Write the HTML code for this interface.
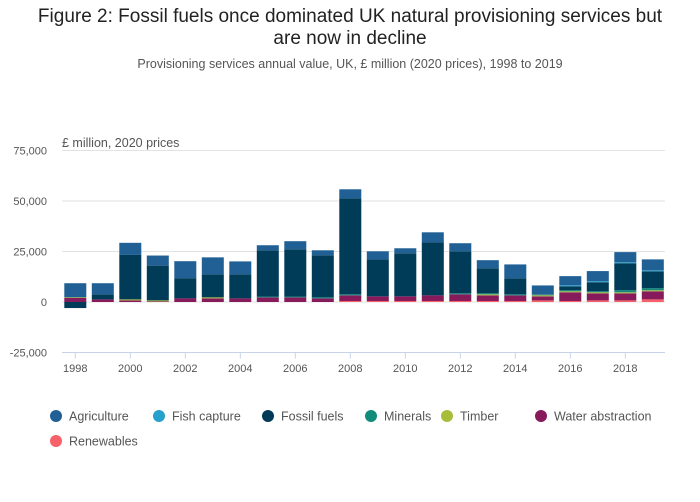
<!DOCTYPE html>
<html><head><meta charset="utf-8"><style>
body{margin:0;background:#fff;font-family:"Liberation Sans",sans-serif;}
#wrap{position:relative;width:700px;height:502px;overflow:hidden;}
.t{position:absolute;white-space:nowrap;}
</style></head><body>
<div id="wrap">
<div class="t" style="left:0;width:700px;top:6px;text-align:center;font-size:19px;line-height:22px;color:#222;white-space:normal">Figure 2: Fossil fuels once dominated UK natural provisioning services but<br>are now in decline</div>
<div class="t" style="left:0;width:700px;top:57px;text-align:center;font-size:12.5px;color:#555">Provisioning services annual value, UK, £ million (2020 prices), 1998 to 2019</div>
<div class="t" style="left:62px;top:136px;font-size:12.5px;color:#555">£ million, 2020 prices</div>
<svg id="chart" width="700" height="502" style="position:absolute;left:0;top:0"></svg>
</div>
<script>
const years=[1998,1999,2000,2001,2002,2003,2004,2005,2006,2007,2008,2009,2010,2011,2012,2013,2014,2015,2016,2017,2018,2019];
const renewables=[0,0,0,0,0,0,0,0,0,0,0.5,0.5,0.5,0.5,0.5,0.5,0.5,0.8,0.5,0.8,0.8,1.3];
const water=[2,1.3,0.8,0.3,1.8,1.8,1.8,2.3,2.3,1.8,2.8,2.3,2.3,2.8,3.3,2.8,2.8,2,4.3,3.5,3.5,4];
const timber=[0.3,0,0.5,0.5,0,0.5,0,0,0,0,0,0,0,0,0,0.5,0,0.5,0.5,0.5,0.5,0.5];
const minerals=[0,0,0,0,0,0,0,0.4,0.4,0.5,0.5,0,0,0,0.5,0.5,0.5,0.3,0.5,0.5,1,1];
const fossil=[-3,2.5,22,17.2,10,11.4,11.9,22.9,23.4,20.8,47.5,18.3,21.3,26.2,20.8,12.4,7.9,0.2,2,4.5,13.4,8.4];
const fish=[0,0,0,0,0,0,0,0,0,0,0,0,0,0,0,0,0,0,0.5,0.5,0.5,0.5];
const agriculture=[7,5.5,6,5,8.4,8.4,6.4,2.5,4,2.5,4.5,4,2.5,5,4,4,6.9,4.4,4.5,5,5,5.4];
const yTicks=[75000,50000,25000,0,-25000];
const yTickLabels=["75,000","50,000","25,000","0","-25,000"];
const series=[
 {name:"Renewables",key:"renewables",data:renewables,color:"#f66068"},
 {name:"Water abstraction",key:"water",data:water,color:"#871a5b"},
 {name:"Timber",key:"timber",data:timber,color:"#a8bd3a"},
 {name:"Minerals",key:"minerals",data:minerals,color:"#118c7b"},
 {name:"Fossil fuels",key:"fossil",data:fossil,color:"#003c57"},
 {name:"Fish capture",key:"fish",data:fish,color:"#27a0cc"},
 {name:"Agriculture",key:"agriculture",data:agriculture,color:"#206095"}
];
const NS="http://www.w3.org/2000/svg";
const svg=document.getElementById('chart');
const X0=62,X1=665,Y0=302,PPU=50.5/25000;
function y(v){return Y0-v*PPU;}
function x(yr){return 75.3+(yr-1998)*27.5;}
function mk(tag,attrs,txt){const e=document.createElementNS(NS,tag);for(const k in attrs)e.setAttribute(k,attrs[k]);if(txt!==undefined)e.textContent=txt;svg.appendChild(e);return e;}
yTicks.forEach((v,i)=>{
 const g=mk('line',{x1:X0,x2:X1,y1:y(v),y2:y(v),stroke:v===-25000?'#c8d3e8':'#e2e2e2','stroke-width':1});
 
 
 const t=mk('text',{x:47,y:y(v)+4,'text-anchor':'end','font-size':11,fill:'#555','font-family':'Liberation Sans'},yTickLabels[i]);
 
 
});
years.forEach((yr,i)=>{
 if(yr%2===0){
  const tk=mk('line',{x1:x(yr),x2:x(yr),y1:y(-25000),y2:y(-25000)+6,stroke:'#c8d3e8','stroke-width':1});
  
  
  const tl=mk('text',{x:x(yr),y:372,'text-anchor':'middle','font-size':11,fill:'#555','font-family':'Liberation Sans'},String(yr));
  
  
 }
 let pos=0,neg=0;
 series.forEach(s=>{
  const v=s.data[i]*1000;if(!v)return;
  let a,b;
  if(v>0){a=pos;b=pos+v;pos=b;}else{a=neg+v;b=neg;neg=a;}
  const r=mk('rect',{x:x(yr)-11,width:22,y:y(b),height:Math.max(0,y(a)-y(b)),fill:s.color});
  
  
 });
});
const legend=[["Agriculture","#206095",56,416],["Fish capture","#27a0cc",159,416],["Fossil fuels","#003c57",268,416],["Minerals","#118c7b",371,416],["Timber","#a8bd3a",447,416],["Water abstraction","#871a5b",541,416],["Renewables","#f66068",56,441]];
legend.forEach(l=>{
 const c=mk('circle',{cx:l[2],cy:l[3],r:6,fill:l[1]});
 
 
 const t=mk('text',{x:l[2]+13,y:l[3]+4.5,'font-size':12.5,fill:'#555','font-family':'Liberation Sans'},l[0]);
 
 
});
</script>
</body></html>
